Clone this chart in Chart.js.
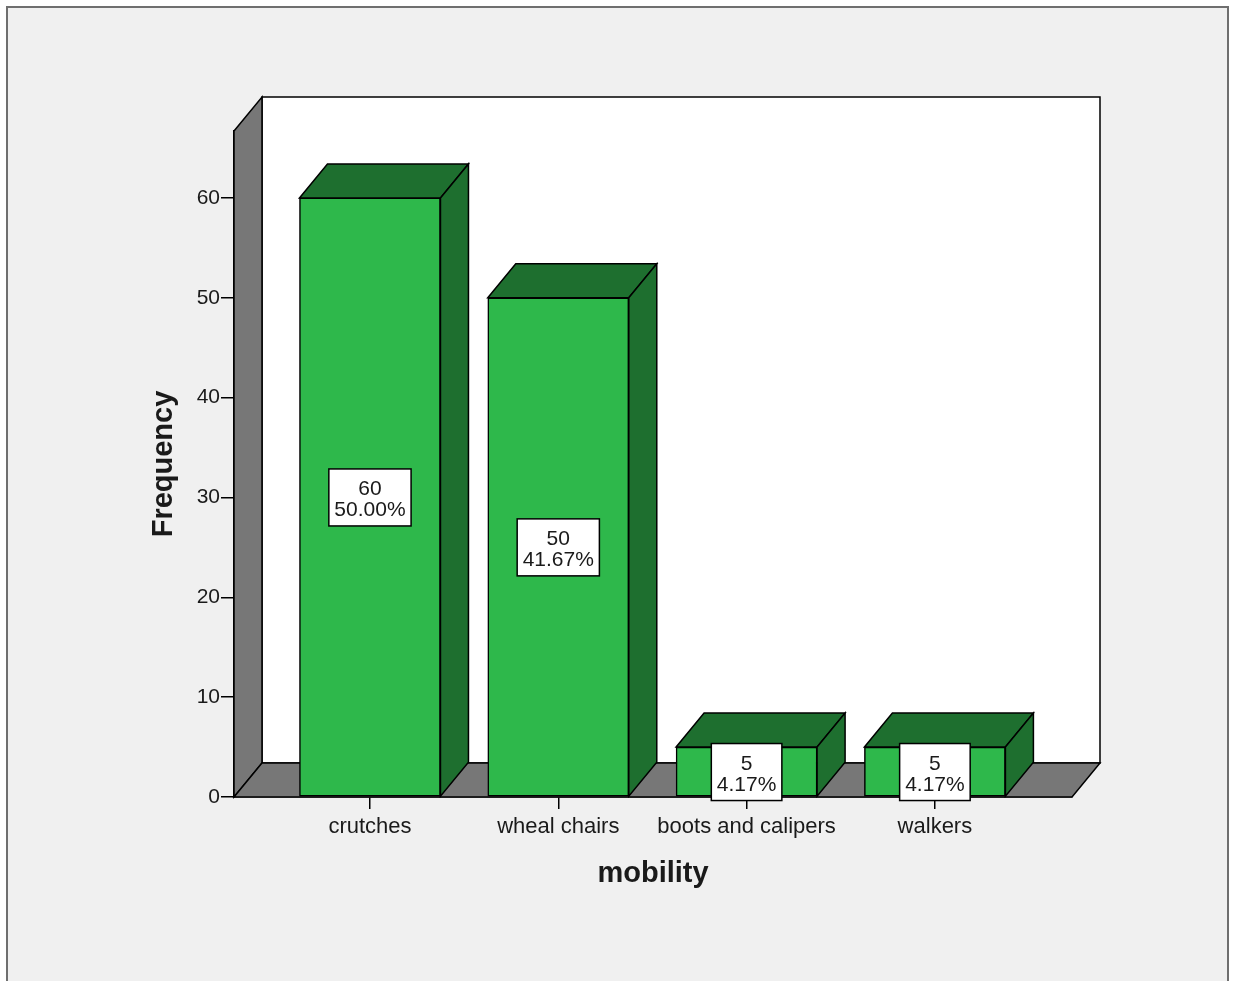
<!DOCTYPE html>
<html>
<head>
<meta charset="utf-8">
<script src="https://cdn.jsdelivr.net/npm/chart.js@4.4.1/dist/chart.umd.min.js"></script>
<style>
  html, body { margin: 0; padding: 0; background: #ffffff; }
  #wrap { position: relative; width: 1235px; height: 981px; }
</style>
</head>
<body>
<div id="wrap"><canvas id="c" width="1235" height="981"></canvas></div>
<script>
// ---- data ----
const categories = ["crutches", "wheal chairs", "boots and calipers", "walkers"];
const frequencies = [60, 50, 5, 5];
const yTickValues = [0, 10, 20, 30, 40, 50, 60];
const xTitle = "mobility";
const yTitle = "Frequency";

const total = frequencies.reduce((a, b) => a + b, 0);

// ---- style constants ----
const DEPTH_X = 28, DEPTH_Y = -34;
const FRONT = "#2eb84b";
const DARK = "#1e6f2f";
const WALL = "#777777";
const TEXT = "#1a1a1a";

function poly(ctx, pts, fill) {
  ctx.beginPath();
  ctx.moveTo(pts[0][0], pts[0][1]);
  for (let i = 1; i < pts.length; i++) ctx.lineTo(pts[i][0], pts[i][1]);
  ctx.closePath();
  ctx.fillStyle = fill;
  ctx.fill();
  ctx.lineWidth = 1.5;
  ctx.strokeStyle = "#000";
  ctx.lineJoin = "miter";
  ctx.stroke();
}

const frame3d = {
  id: "frame3d",
  beforeDraw(chart) {
    const ctx = chart.ctx;
    ctx.save();
    ctx.fillStyle = "#ffffff";
    ctx.fillRect(0, 0, chart.width, chart.height);
    ctx.fillStyle = "#f0f0f0";
    ctx.fillRect(7, 7, 1221, 990);
    ctx.strokeStyle = "#6f6f6f";
    ctx.lineWidth = 2;
    ctx.strokeRect(7, 7, 1221, 990);
    ctx.restore();
  },
  beforeDatasetsDraw(chart) {
    const ctx = chart.ctx;
    const a = chart.chartArea;
    ctx.save();
    // back wall
    poly(ctx, [[a.left + DEPTH_X, a.top + DEPTH_Y], [a.right + DEPTH_X, a.top + DEPTH_Y],
               [a.right + DEPTH_X, a.bottom + DEPTH_Y], [a.left + DEPTH_X, a.bottom + DEPTH_Y]], "#ffffff");
    // left wall
    poly(ctx, [[a.left, a.top], [a.left + DEPTH_X, a.top + DEPTH_Y],
               [a.left + DEPTH_X, a.bottom + DEPTH_Y], [a.left, a.bottom]], WALL);
    // floor
    poly(ctx, [[a.left, a.bottom], [a.left + DEPTH_X, a.bottom + DEPTH_Y],
               [a.right + DEPTH_X, a.bottom + DEPTH_Y], [a.right, a.bottom]], WALL);
    ctx.restore();
  },
  afterDatasetsDraw(chart) {
    const ctx = chart.ctx;
    const meta = chart.getDatasetMeta(0);
    const yScale = chart.scales.y;
    ctx.save();
    meta.data.forEach((bar, i) => {
      const p = bar.getProps(["x", "y", "base", "width"], true);
      const x1 = p.x - p.width / 2, x2 = p.x + p.width / 2;
      const yt = p.y, yb = p.base;
      // top face
      poly(ctx, [[x1, yt], [x1 + DEPTH_X, yt + DEPTH_Y], [x2 + DEPTH_X, yt + DEPTH_Y], [x2, yt]], DARK);
      // side face
      poly(ctx, [[x2, yt], [x2 + DEPTH_X, yt + DEPTH_Y], [x2 + DEPTH_X, yb + DEPTH_Y], [x2, yb]], DARK);
    });
    // data labels
    ctx.font = "21px 'Liberation Sans', Arial, sans-serif";
    ctx.textAlign = "center";
    ctx.textBaseline = "middle";
    meta.data.forEach((bar, i) => {
      const v = frequencies[i];
      const l1 = String(v);
      const l2 = (v / total * 100).toFixed(2) + "%";
      const w = Math.max(ctx.measureText(l1).width, ctx.measureText(l2).width) + 11;
      const h = 57;
      const cx = bar.x;
      const cy = yScale.getPixelForValue(v / 2);
      ctx.fillStyle = "#ffffff";
      ctx.fillRect(cx - w / 2, cy - h / 2, w, h);
      ctx.lineWidth = 1.5;
      ctx.strokeStyle = "#000";
      ctx.strokeRect(cx - w / 2, cy - h / 2, w, h);
      ctx.fillStyle = TEXT;
      ctx.fillText(l1, cx, cy - 8);
      ctx.fillText(l2, cx, cy + 13);
    });
    ctx.restore();
  }
};

const ctx = document.getElementById("c").getContext("2d");
new Chart(ctx, {
  type: "bar",
  data: {
    datasets: [{
      data: frequencies.map((v, i) => ({ x: i, y: v })),
      backgroundColor: FRONT,
      borderColor: "#000",
      borderWidth: 1.5,
      borderSkipped: false,
      barThickness: 141
    }]
  },
  options: {
    responsive: false,
    animation: false,
    events: [],
    layout: { padding: { top: 131, right: 163, left: 0, bottom: 0 } },
    plugins: { legend: { display: false }, tooltip: { enabled: false } },
    scales: {
      x: {
        type: "linear",
        offset: false,
        min: -0.722,
        max: 3.728,
        afterFit(s) { s.height = 184; },
        afterBuildTicks(s) { s.ticks = categories.map((c, i) => ({ value: i })); },
        grid: { display: true, offset: false, drawOnChartArea: false, drawTicks: true, tickLength: 12, color: "#000", lineWidth: 1.5 },
        border: { display: true, color: "#000", width: 1.5 },
        ticks: {
          autoSkip: false,
          maxRotation: 0,
          padding: 5,
          color: TEXT,
          font: { family: "'Liberation Sans', Arial, sans-serif", size: 22 },
          callback: (v) => categories[v] !== undefined ? categories[v] : ""
        },
        title: {
          display: true,
          text: xTitle,
          color: TEXT,
          font: { family: "'Liberation Sans', Arial, sans-serif", size: 29, weight: "bold" },
          padding: { top: 0, bottom: 90 }
        }
      },
      y: {
        min: 0,
        max: 66.7,
        afterFit(s) { s.width = 234; },
        afterBuildTicks(s) { s.ticks = yTickValues.map(v => ({ value: v })); },
        grid: { display: true, drawOnChartArea: false, drawTicks: true, tickLength: 13, color: "#000", lineWidth: 1.5 },
        border: { display: true, color: "#000", width: 1.5 },
        ticks: {
          padding: 1,
          color: TEXT,
          font: { family: "'Liberation Sans', Arial, sans-serif", size: 21 }
        },
        title: {
          display: true,
          text: yTitle,
          color: TEXT,
          font: { family: "'Liberation Sans', Arial, sans-serif", size: 29, weight: "bold" },
          padding: { top: 147, bottom: 0 }
        }
      }
    }
  },
  plugins: [frame3d]
});
</script>
</body>
</html>
